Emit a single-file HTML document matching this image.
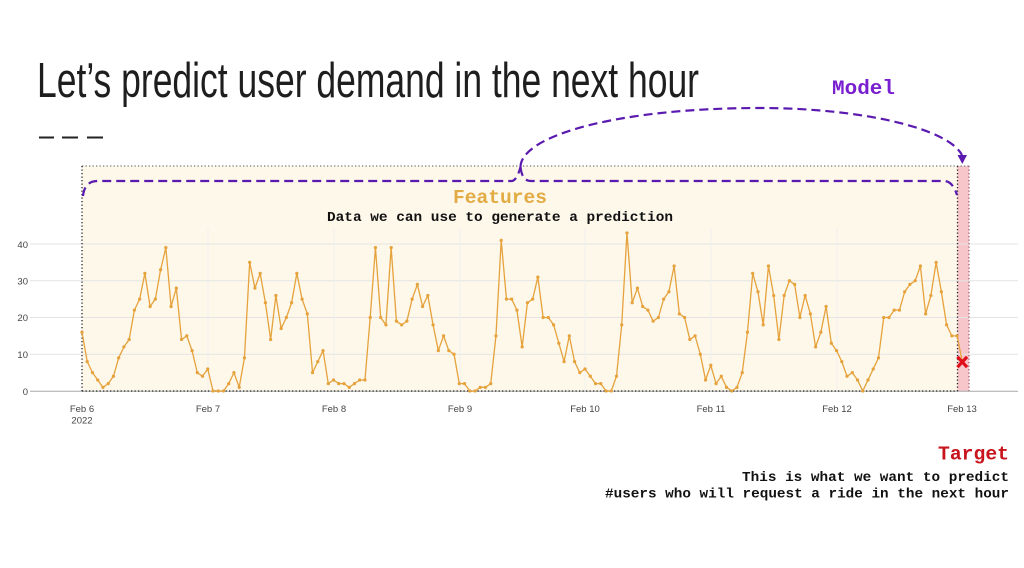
<!DOCTYPE html>
<html>
<head>
<meta charset="utf-8">
<style>
  html,body{margin:0;padding:0;background:#ffffff;}
  svg{display:block;}
  .mono{font-family:"Liberation Mono","DejaVu Sans Mono",monospace;font-weight:bold;}
  .ax{font-family:"Liberation Sans","DejaVu Sans",sans-serif;font-size:9.5px;fill:#444;}
</style>
</head>
<body>
<svg width="1024" height="568" viewBox="0 0 1024 568" xmlns="http://www.w3.org/2000/svg">
  <defs>
    <marker id="dot" markerUnits="userSpaceOnUse" markerWidth="2" markerHeight="2" refX="1" refY="1" overflow="visible">
      <ellipse cx="1" cy="1" rx="0.31" ry="0.44" fill="#e6a23c"/>
    </marker>
  </defs>

  <!-- Title -->
  <text x="37" y="97" font-family="Liberation Sans, DejaVu Sans, sans-serif" font-size="49" fill="#1e1e1e" textLength="662" lengthAdjust="spacingAndGlyphs">Let’s predict user demand in the next hour</text>
  <g stroke="#222" stroke-width="2">
    <line x1="39" y1="137.5" x2="54" y2="137.5"/>
    <line x1="62" y1="137.5" x2="78" y2="137.5"/>
    <line x1="87" y1="137.5" x2="103" y2="137.5"/>
  </g>

  <!-- Features area fill -->
  <rect x="82" y="166" width="875.5" height="225" fill="#fdf8ea"/>
  <!-- Target pink -->
  <rect x="957.5" y="166" width="11.5" height="225" fill="#f7c6cb"/>

  <!-- grid -->
  <g stroke="#e4e4e4" stroke-width="1">
    <line x1="30" y1="244" x2="1018" y2="244"/>
    <line x1="30" y1="280.8" x2="1018" y2="280.8"/>
    <line x1="30" y1="317.5" x2="1018" y2="317.5"/>
    <line x1="30" y1="354.3" x2="1018" y2="354.3"/>
  </g>
  <g stroke="#efefef" stroke-width="1">
    <line x1="208" y1="228" x2="208" y2="391"/>
    <line x1="334" y1="228" x2="334" y2="391"/>
    <line x1="460" y1="228" x2="460" y2="391"/>
    <line x1="585" y1="228" x2="585" y2="391"/>
    <line x1="711" y1="228" x2="711" y2="391"/>
    <line x1="837" y1="228" x2="837" y2="391"/>
  </g>
  <line x1="30" y1="391.3" x2="1018" y2="391.3" stroke="#a8a8a8" stroke-width="1"/>

  <!-- dotted borders -->
  <g stroke="#222" stroke-width="1.3" stroke-dasharray="1.3 2.2" fill="none">
    <line x1="82" y1="166" x2="969" y2="166" stroke="#777"/>
    <line x1="82" y1="166" x2="82" y2="391"/>
    <line x1="82" y1="391" x2="957.5" y2="391"/>
    <line x1="957.5" y1="166" x2="957.5" y2="391"/>
    <line x1="969" y1="166" x2="969" y2="391" stroke="#a06070"/>
  </g>

  <!-- axis labels -->
  <g class="ax" text-anchor="end">
    <text x="28" y="248">40</text>
    <text x="28" y="284.5">30</text>
    <text x="28" y="321">20</text>
    <text x="28" y="358">10</text>
    <text x="28" y="395">0</text>
  </g>
  <g class="ax" text-anchor="middle">
    <text x="82" y="412">Feb 6</text>
    <text x="82" y="423.5">2022</text>
    <text x="208" y="412">Feb 7</text>
    <text x="334" y="412">Feb 8</text>
    <text x="460" y="412">Feb 9</text>
    <text x="585" y="412">Feb 10</text>
    <text x="711" y="412">Feb 11</text>
    <text x="837" y="412">Feb 12</text>
    <text x="962" y="412">Feb 13</text>
  </g>

  <!-- data series -->
  <g transform="translate(82,391) scale(5.24,-3.675)">
    <polyline fill="none" stroke="#e6a23c" stroke-width="1.3" vector-effect="non-scaling-stroke" stroke-linejoin="round"
      marker-start="url(#dot)" marker-mid="url(#dot)"
      points="0,16 1,8 2,5 3,3 4,1 5,2 6,4 7,9 8,12 9,14 10,22 11,25 12,32 13,23 14,25 15,33 16,39 17,23 18,28 19,14 20,15 21,11 22,5 23,4 24,6 25,0 26,0 27,0 28,2 29,5 30,1 31,9 32,35 33,28 34,32 35,24 36,14 37,26 38,17 39,20 40,24 41,32 42,25 43,21 44,5 45,8 46,11 47,2 48,3 49,2 50,2 51,1 52,2 53,3 54,3 55,20 56,39 57,20 58,18 59,39 60,19 61,18 62,19 63,25 64,29 65,23 66,26 67,18 68,11 69,15 70,11 71,10 72,2 73,2 74,0 75,0 76,1 77,1 78,2 79,15 80,41 81,25 82,25 83,22 84,12 85,24 86,25 87,31 88,20 89,20 90,18 91,13 92,8 93,15 94,8 95,5 96,6 97,4 98,2 99,2 100,0 101,0 102,4 103,18 104,43 105,24 106,28 107,23 108,22 109,19 110,20 111,25 112,27 113,34 114,21 115,20 116,14 117,15 118,10 119,3 120,7 121,2 122,4 123,1 124,0 125,1 126,5 127,16 128,32 129,27 130,18 131,34 132,26 133,14 134,26 135,30 136,29 137,20 138,26 139,21 140,12 141,16 142,23 143,13 144,11 145,8 146,4 147,5 148,3 149,0 150,3 151,6 152,9 153,20 154,20 155,22 156,22 157,27 158,29 159,30 160,34 161,21 162,26 163,35 164,27 165,18 166,15 167,15 168,8"/>
  </g>

  <!-- target marker -->
  <g stroke="#e0101a" stroke-width="3.2" stroke-linecap="square">
    <line x1="958.5" y1="358" x2="966" y2="366"/>
    <line x1="966" y1="358" x2="958.5" y2="366"/>
  </g>

  <!-- purple braces / arc -->
  <g fill="none" stroke="#5a1ab0" stroke-width="2.2" stroke-dasharray="9 5">
    <path d="M83,196 C84,187 88,181 98,181 L512,181 Q517,180 520.5,167"/>
    <path d="M520.5,167 Q522,181 531,181 L945,181 Q953,182 957,195"/>
    <path d="M520.5,167 C521,135 620,108 760,108 C860,108 948,128 962,155"/>
  </g>
  <polygon points="957.5,155 967,155 962.3,164" fill="#5a1ab0"/>

  <!-- texts -->
  <text class="mono" x="832" y="94" font-size="20" fill="#7a1fd0" textLength="63" lengthAdjust="spacingAndGlyphs">Model</text>
  <text class="mono" x="453" y="203" font-size="19.5" fill="#e2ab44" textLength="94" lengthAdjust="spacingAndGlyphs">Features</text>
  <text class="mono" x="327" y="221" font-size="14" fill="#111" textLength="346" lengthAdjust="spacingAndGlyphs">Data we can use to generate a prediction</text>

  <text class="mono" x="1009" y="459.5" font-size="19.5" fill="#c8141c" text-anchor="end" textLength="71" lengthAdjust="spacingAndGlyphs">Target</text>
  <text class="mono" x="1009" y="481" font-size="14" fill="#111" text-anchor="end" textLength="267" lengthAdjust="spacingAndGlyphs">This is what we want to predict</text>
  <text class="mono" x="1009" y="497.5" font-size="14" fill="#111" text-anchor="end" textLength="404" lengthAdjust="spacingAndGlyphs">#users who will request a ride in the next hour</text>
</svg>
</body>
</html>
